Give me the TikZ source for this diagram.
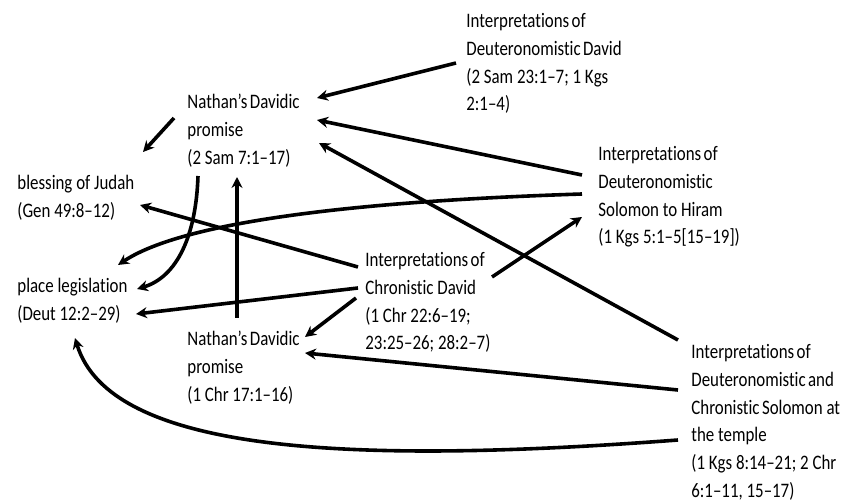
\documentclass[tikz,border=0pt]{standalone}
\usepackage{fontspec}
\setmainfont{Carlito}[FakeStretch=0.82,Ligatures=NoCommon]
\usetikzlibrary{arrows.meta}
\usetikzlibrary{calc}
\newcommand\tsp{\hspace{1.2pt}}

\begin{document}
\begin{tikzpicture}[x=0.5pt, y=0.5pt,
		txt/.style={anchor=north west, inner sep=0pt, align=left, font=\fontsize{10.3}{13.9}\selectfont},
		arr/.style={-{Stealth[length=5.5pt,width=5.5pt]}, line width=1.8pt}]
		\useasboundingbox (0,0) rectangle (842,-502);

		\node[txt] (idd) at (466,-13) {Interpretations\tsp of\\Deuteronomistic\tsp David\\(2 Sam 23:1–7; 1 Kgs\\2:1–4)};
		\node[txt] (nat1) at (187,-94) {Nathan’s\tsp Davidic\\promise\\(2 Sam 7:1–17)};
		\node[txt] (bless) at (17,-175) {blessing of Judah\\(Gen 49:8–12)};
		\node[txt] (place) at (17,-278) {place legislation\\(Deut 12:2–29)};
		\node[txt] (idsh) at (598,-146) {Interpretations\tsp of\\Deuteronomistic\\Solomon to Hiram\\(1 Kgs 5:1–5[15–19])};
		\node[txt] (icd) at (365,-252) {Interpretations\tsp of\\Chronistic David\\(1 Chr 22:6–19;\\23:25–26; 28:2–7)};
		\node[txt] (nat2) at (187,-331) {Nathan’s\tsp Davidic\\promise\\(1 Chr 17:1–16)};
		\node[txt] (itemp) at (691,-344) {Interpretations\tsp of\\Deuteronomistic\tsp and\\Chronistic\tsp Solomon at\\the temple\\(1 Kgs 8:14–21; 2 Chr\\6:1–11, 15–17)};

		% into Nathan (2 Sam)
		\draw[arr] ($(idd.north west)+(-10,-50)$) -- ($(nat1.north west)+(130,-4)$);
		\draw[arr] ($(idsh.north west)+(-16,-29)$) -- ($(nat1.north west)+(130,-26)$);
		\draw[arr] ($(itemp.north west)+(-13,4)$) -- ($(nat1.north west)+(132,-49)$);
		\draw[arr] ($(nat2.north west)+(50,13)$) -- ($(nat1.north west)+(50,-83)$);

		% left column
		\draw[arr] ($(nat1.north west)+(-13,-24)$) -- ($(bless.north west)+(126,23)$);
		\draw[arr] ($(nat1.north west)+(11,-82)$) .. controls +(-2,-60) and +(40,12) .. ($(place.north west)+(120,-11)$);
		\draw[arr] ($(idsh.north west)+(-16,-48)$) .. controls +(-250,-8) and +(60,40) .. ($(place.north west)+(101,13)$);
		\draw[arr] ($(icd.north west)+(-7,-15)$) -- ($(bless.north west)+(123,-30)$);
		\draw[arr] ($(icd.north west)+(-7,-36)$) -- ($(place.north west)+(119,-36)$);
		\draw[arr] ($(itemp.north west)+(-13,-96)$) .. controls +(-330,-25) and +(35,-115) .. ($(place.north west)+(58,-60)$);

		% Chronistic David and the temple
		\draw[arr] ($(icd.north west)+(-9,-46)$) -- ($(nat2.north west)+(118,-6)$);
		\draw[arr] ($(icd.north west)+(127,-25)$) -- ($(idsh.north west)+(-16,-71)$);
		\draw[arr] ($(itemp.north west)+(-13,-46)$) -- ($(nat2.north west)+(118,-22)$);
	\end{tikzpicture}
\end{document}
